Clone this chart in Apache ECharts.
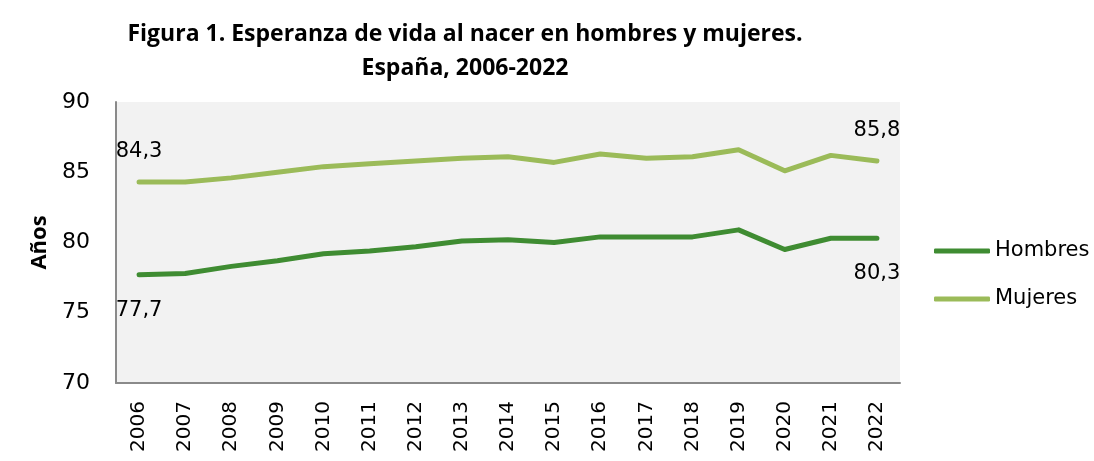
<!DOCTYPE html>
<html>
<head>
<meta charset="utf-8">
<script src="https://cdn.jsdelivr.net/npm/echarts@6/dist/echarts.min.js"></script>
<style>html,body{margin:0;padding:0;background:#fff}#c{width:1094px;height:461px}</style>
</head>
<body>
<div id="c"></div>
<script>
const years = ['2006','2007','2008','2009','2010','2011','2012','2013','2014','2015','2016','2017','2018','2019','2020','2021','2022'];
const hombres = [77.7, 77.8, 78.3, 78.7, 79.2, 79.4, 79.7, 80.1, 80.2, 80.0, 80.4, 80.4, 80.4, 80.9, 79.5, 80.3, 80.3];
const mujeres = [84.3, 84.3, 84.6, 85.0, 85.4, 85.6, 85.8, 86.0, 86.1, 85.7, 86.3, 86.0, 86.1, 86.6, 85.1, 86.2, 85.8];
const yTicks = [70, 75, 80, 85, 90];

const fmt = v => String(v.toFixed(1)).replace('.', ',');
function withEndLabels(arr, pos) {
  const last = arr.length - 1;
  return arr.map((v, i) => (i === 0 || i === last)
    ? { value: v, label: { show: true, position: pos } }
    : v);
}

const chart = echarts.init(document.getElementById('c'), null, { renderer: 'canvas' });
chart.setOption({
  animation: false,
  backgroundColor: '#ffffff',
  title: {
    text: 'Figura 1. Esperanza de vida al nacer en hombres y mujeres.\nEspaña, 2006-2022',
    left: 460, top: 12, textAlign: 'center',
    textStyle: { fontFamily: 'Open Sans', fontWeight: 'bold', fontSize: 23, lineHeight: 34, color: '#000' }
  },
  legend: {
    orient: 'vertical', left: 929, top: 234,
    itemWidth: 56, itemHeight: 5, itemGap: 24,
    icon: 'roundRect',
    textStyle: { fontFamily: 'DejaVu Sans', fontSize: 21, lineHeight: 24, color: '#000' },
    data: ['Hombres', 'Mujeres']
  },
  grid: { left: 116, right: 194, top: 102, bottom: 78, show: true, backgroundColor: '#f2f2f2', borderWidth: 0 },
  xAxis: {
    type: 'category', data: years, boundaryGap: true,
    axisLine: { lineStyle: { color: '#8a8a8a', width: 2 } },
    axisTick: { show: false },
    axisLabel: { rotate: 90, margin: 18, fontFamily: 'DejaVu Sans', fontSize: 20, color: '#000', interval: 0 }
  },
  yAxis: {
    type: 'value', min: yTicks[0], max: yTicks[yTicks.length - 1], interval: 5,
    name: 'Años', nameLocation: 'middle', nameGap: 64,
    nameTextStyle: { fontFamily: 'Open Sans', fontWeight: 'bold', fontSize: 22, color: '#000' },
    axisLine: { show: true, lineStyle: { color: '#8a8a8a', width: 2 } },
    axisTick: { show: false },
    splitLine: { show: false },
    axisLabel: { margin: 26, fontFamily: 'DejaVu Sans', fontSize: 22, color: '#000' }
  },
  series: [
    {
      name: 'Hombres', type: 'line', data: withEndLabels(hombres, 'bottom'),
      symbol: 'circle', symbolSize: 0.1, showSymbol: true, color: '#3f8c32',
      lineStyle: { width: 5, color: '#3f8c32', cap: 'round', join: 'round' },
      label: { show: false, distance: 25, formatter: p => fmt(p.value), fontFamily: 'DejaVu Sans', fontSize: 21, color: '#000' }
    },
    {
      name: 'Mujeres', type: 'line', data: withEndLabels(mujeres, 'top'),
      symbol: 'circle', symbolSize: 0.1, showSymbol: true, color: '#9bbb59',
      lineStyle: { width: 5, color: '#9bbb59', cap: 'round', join: 'round' },
      label: { show: false, distance: 20, formatter: p => fmt(p.value), fontFamily: 'DejaVu Sans', fontSize: 21, color: '#000' }
    }
  ]
});
</script>
</body>
</html>
